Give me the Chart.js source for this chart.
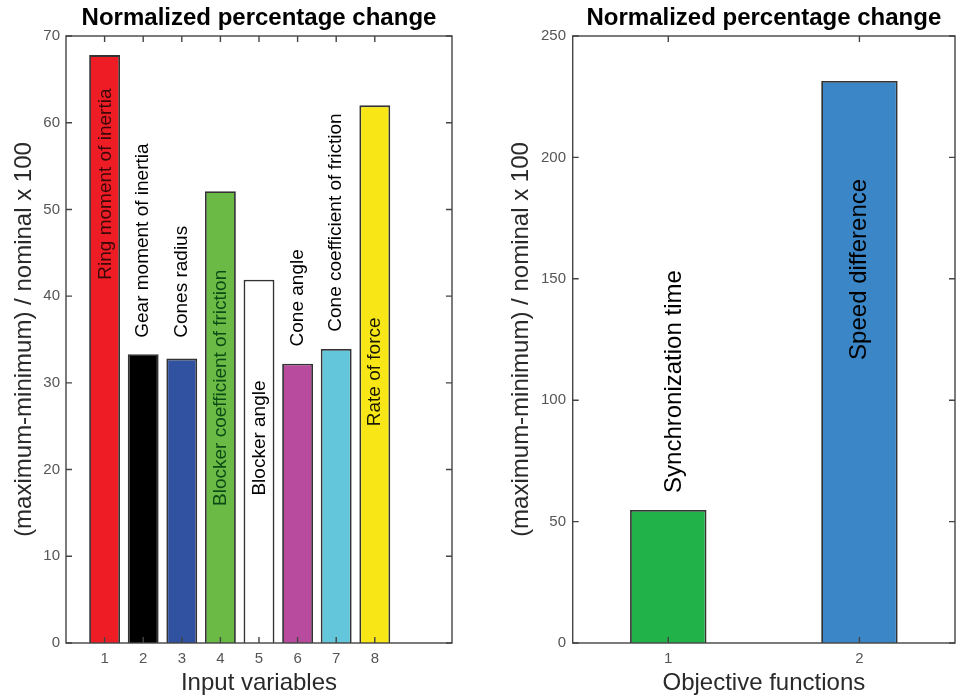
<!DOCTYPE html>
<html><head><meta charset="utf-8">
<script src="https://cdn.jsdelivr.net/npm/chart.js@4.4.1/dist/chart.umd.min.js"></script>
<style>
html,body{margin:0;padding:0;background:#fff;width:956px;height:699px;overflow:hidden}
#l{position:absolute;left:0;top:0;width:478px;height:699px}
#r{position:absolute;left:478px;top:0;width:478px;height:699px}
</style></head><body>
<div id="l"><canvas id="cl"></canvas></div>
<div id="r"><canvas id="cr"></canvas></div>
<script>
const FONT = "'Liberation Sans', Arial, Helvetica, sans-serif";
const chartTitle = 'Normalized percentage change';
const yAxisTitle = '(maximum-minimum) / nominal x 100';

// Left panel: input variables
const inputNames = ['Ring moment of inertia','Gear moment of inertia','Cones radius','Blocker coefficient of friction','Blocker angle','Cone angle','Cone coefficient of friction','Rate of force'];
const inputX = [1,2,3,4,5,6,7,8];
const inputValues = [67.8, 33.3, 32.8, 52.1, 41.9, 32.2, 33.9, 62.0];
const inputLabelX = [1.04, 2, 3, 4, 5.02, 6, 7, 8];
const inputLabelStart = [41.9, 35.2, 35.2, 15.8, 17.0, 34.2, 35.9, 25.0];
const inputColors = ['#ee1d25','#000000','#3151a1','#6bba45','#ffffff','#b94b9f','#63c6da','#f8e617'];
const inputLabelColors = ['#3a0808','#000000','#000000','#0c4a16','#000000','#000000','#000000','#1a1a00'];
const inputXTicks = [1,2,3,4,5,6,7,8];
const inputYTicks = [0,10,20,30,40,50,60,70];

// Right panel: objective functions
const objectiveNames = ['Synchronization time','Speed difference'];
const objectiveX = [1,2];
const objectiveValues = [54.8, 231.5];
const objectiveLabelX = [1.03, 2];
const objectiveLabelStart = [61.8, 116.6];
const objectiveColors = ['#22b24a','#3a86c7'];
const objectiveLabelColors = ['#000000','#000000'];
const objectiveXTicks = [1,2];
const objectiveYTicks = [0,50,100,150,200,250];

function boxPlugin(xTicks, yTicks) {
  return {
    id: 'box',
    afterDatasetsDraw(chart) {
      const {ctx, chartArea: a, scales} = chart;
      ctx.save();
      ctx.strokeStyle = '#444';
      ctx.lineWidth = 1.4;
      ctx.strokeRect(a.left, a.top, a.right - a.left, a.bottom - a.top);
      const L = 6;
      ctx.beginPath();
      yTicks.forEach(v => {
        const p = scales.y.getPixelForValue(v);
        ctx.moveTo(a.left, p); ctx.lineTo(a.left + L, p);
        ctx.moveTo(a.right, p); ctx.lineTo(a.right - L, p);
      });
      xTicks.forEach(v => {
        const p = scales.x.getPixelForValue(v);
        ctx.moveTo(p, a.bottom); ctx.lineTo(p, a.bottom - L);
        ctx.moveTo(p, a.top); ctx.lineTo(p, a.top + L);
      });
      ctx.stroke();
      ctx.restore();
    }
  };
}

function labelPlugin(names, xs, starts, colors, size) {
  return {
    id: 'barText',
    afterDatasetsDraw(chart) {
      const {ctx, scales} = chart;
      ctx.save();
      ctx.font = size + 'px ' + FONT;
      ctx.textAlign = 'left';
      ctx.textBaseline = 'middle';
      names.forEach((n, i) => {
        const px = scales.x.getPixelForValue(xs[i]);
        const py = scales.y.getPixelForValue(starts[i]);
        ctx.save();
        ctx.translate(px, py);
        ctx.rotate(-Math.PI / 2);
        ctx.fillStyle = colors[i];
        ctx.fillText(n, 0, 0);
        ctx.restore();
      });
      ctx.restore();
    }
  };
}

function makeChart(id, c) {
  return new Chart(document.getElementById(id), {
    type: 'bar',
    data: {
      datasets: [{
        data: c.x.map((x, i) => ({x: x, y: c.values[i]})),
        backgroundColor: c.colors,
        borderColor: '#333333',
        borderWidth: 1.8,
        barPercentage: c.barPct,
        categoryPercentage: 1
      }]
    },
    options: {
      responsive: true,
      maintainAspectRatio: false,
      animation: false,
      events: [],
      layout: {padding: {left: 0, right: c.padRight, top: 0, bottom: 0}},
      plugins: {
        legend: {display: false},
        tooltip: {enabled: false},
        title: {
          display: true, text: chartTitle, fullSize: false, color: '#000',
          font: {family: FONT, size: 24, weight: 'bold'},
          padding: {top: 3.5, bottom: 3.7}
        }
      },
      scales: {
        x: {
          type: 'linear', min: c.xMin, max: c.xMax, offset: false,
          grid: {display: false, drawTicks: false},
          border: {display: false},
          afterBuildTicks: s => { s.ticks = c.xTicks.map(v => ({value: v})); },
          afterFit: s => { s.height = 56; },
          ticks: {color: '#555555', font: {family: FONT, size: 15}, padding: 7, maxRotation: 0, autoSkip: false},
          title: {display: true, text: c.xTitle, color: '#2a2a2a', font: {family: FONT, size: 24}, padding: {top: 0, bottom: 1}}
        },
        y: {
          type: 'linear', min: 0, max: c.yMax,
          grid: {display: false, drawTicks: false},
          border: {display: false},
          afterBuildTicks: s => { s.ticks = c.yTicks.map(v => ({value: v})); },
          afterFit: s => { s.width = c.yWidth; },
          ticks: {color: '#555555', font: {family: FONT, size: 15}, padding: c.yTickPad},
          title: {display: true, text: yAxisTitle, color: '#2a2a2a', font: {family: FONT, size: 24}, padding: {top: c.yTitlePad, bottom: 0}}
        }
      }
    },
    plugins: [boxPlugin(c.xTicks, c.yTicks), labelPlugin(c.names, c.labelX, c.labelStart, c.labelColors, c.labelSize)]
  });
}

makeChart('cl', {
  x: inputX, values: inputValues, colors: inputColors, barPct: 0.8,
  xMin: 0, xMax: 10, yMax: 70, xTicks: inputXTicks, yTicks: inputYTicks,
  xTitle: 'Input variables', padRight: 26, yWidth: 66, yTickPad: 6, yTitlePad: 10,
  names: inputNames, labelX: inputLabelX, labelStart: inputLabelStart, labelColors: inputLabelColors, labelSize: 19
});
makeChart('cr', {
  x: objectiveX, values: objectiveValues, colors: objectiveColors, barPct: 0.4,
  xMin: 0.5, xMax: 2.5, yMax: 250, xTicks: objectiveXTicks, yTicks: objectiveYTicks,
  xTitle: 'Objective functions', padRight: 1, yWidth: 94.7, yTickPad: 6.7, yTitlePad: 28.6,
  names: objectiveNames, labelX: objectiveLabelX, labelStart: objectiveLabelStart, labelColors: objectiveLabelColors, labelSize: 24
});
</script>
</body></html>
